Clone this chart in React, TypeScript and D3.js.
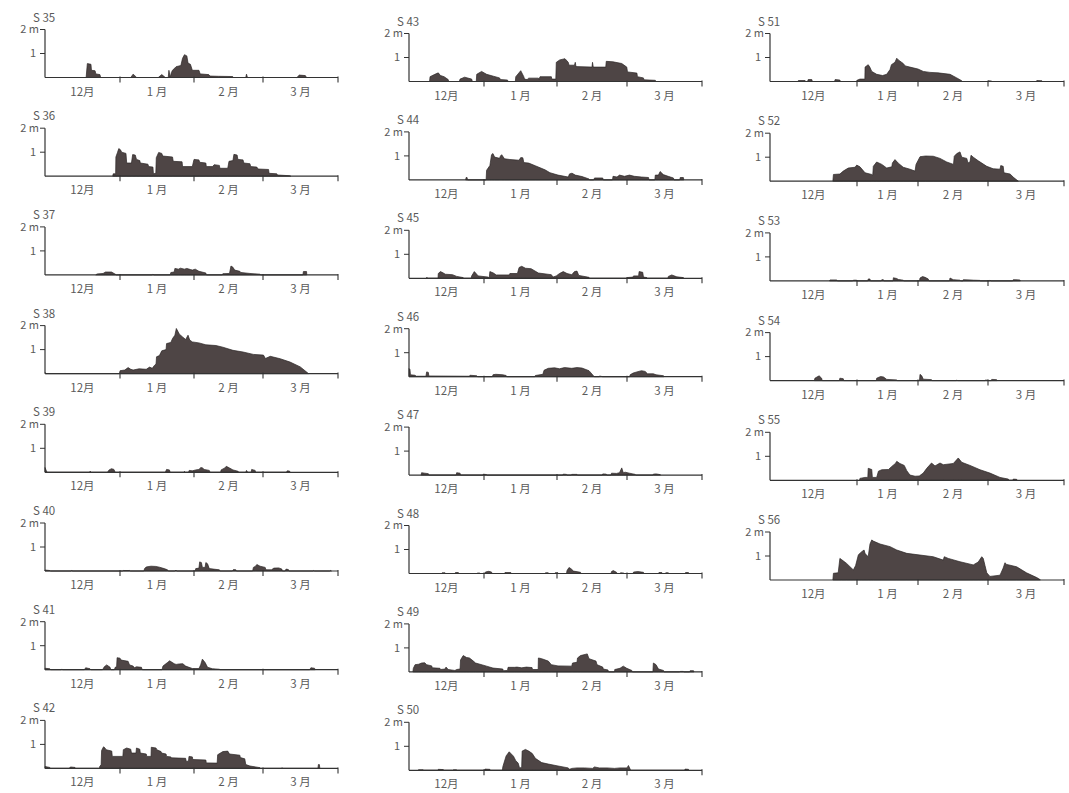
import React from 'react';
import * as d3 from 'd3';

type Pt = [number, number];

// days counted from 1 Dec; snow depth in metres
const monthStarts = [0, 31, 62, 90, 121];
const monthLabels = ['12月', '1 月', '2 月', '3 月'];

const s35: Pt[] = [[0,0],[17,0],[17.5,0.58],[19,0.55],[19.2,0.3],[20.7,0.28],[21,0.15],[22.7,0.12],[23,0],[35.5,0],[36.5,0.14],[38,0],[47,0],[48.5,0.12],[50,0],[51.2,0],[51.5,0.3],[52,0],[52.5,0.2],[53,0.3],[54.5,0.45],[56.5,0.5],[57.2,0.8],[58,0.95],[59,0.9],[59.5,0.6],[60.5,0.55],[61.3,0.3],[64,0.3],[64.5,0.15],[68,0.12],[68.5,0.06],[72,0.05],[77.7,0.04],[78,0],[83,0],[83.3,0.14],[83.7,0],[104,0],[105,0.1],[107.5,0.08],[108,0],[121,0]];
const s36: Pt[] = [[28,0],[28.2,0.1],[29.2,0.1],[29.3,0.8],[30,1.0],[30.5,1.15],[31.2,1.1],[31.7,1.0],[33.5,0.95],[33.8,0.55],[35.8,0.55],[36.3,0.9],[37.4,0.88],[37.9,0.7],[39.3,0.65],[39.5,0.55],[42.7,0.5],[43,0.4],[44.8,0.38],[45,0.1],[46,0.12],[46.2,0.77],[47.2,0.99],[48.5,0.95],[48.9,0.84],[53,0.8],[53.3,0.62],[57,0.6],[57.2,0.4],[61.3,0.4],[62,0.7],[64,0.68],[64.3,0.58],[66.8,0.55],[67,0.4],[69.5,0.4],[70.2,0.48],[72.3,0.45],[72.5,0.33],[75.7,0.33],[76.2,0.62],[77.8,0.65],[78.2,0.91],[79.5,0.88],[79.8,0.7],[81.9,0.68],[82.2,0.55],[84.7,0.52],[85,0.4],[87.5,0.38],[88,0.3],[92.3,0.28],[92.5,0.12],[95.7,0.1],[96,0.05],[101,0.02],[101.5,0]];
const s37: Pt[] = [[21,0],[21.5,0.04],[24,0.06],[25,0.12],[27.5,0.12],[28.9,0.04],[29.5,0],[44.5,0],[44.8,0.03],[45.2,0],[52,0],[52.3,0.1],[53.7,0.12],[54,0.27],[55.5,0.24],[56.3,0.28],[58,0.24],[59,0.27],[60.6,0.22],[61.3,0.2],[62.5,0.24],[64,0.15],[66.8,0.08],[67,0],[73.5,0],[73.7,0.05],[76.4,0.06],[77,0.37],[77.8,0.32],[78.5,0.2],[80.6,0.15],[81,0.1],[84.7,0.06],[88.8,0.03],[89,0],[106.5,0],[106.7,0.14],[108,0.14],[108.1,0]];
const s38: Pt[] = [[0,0.04],[0.5,0],[30.8,0],[31,0.12],[33,0.15],[34.4,0.25],[35.5,0.18],[36.5,0.15],[39,0.2],[42,0.18],[43.4,0.27],[44.5,0.22],[45.5,0.35],[46.1,0.4],[46.3,0.7],[47.5,0.75],[48.5,0.95],[50.3,1.0],[50.5,1.25],[52.3,1.3],[53,1.46],[54,1.6],[54.6,1.88],[55.3,1.75],[55.8,1.65],[57.2,1.53],[58.5,1.42],[59.5,1.6],[60.2,1.4],[61.3,1.32],[64,1.28],[66.8,1.2],[70.9,1.17],[73.7,1.1],[77.8,0.97],[81.9,0.9],[86.1,0.8],[90.2,0.77],[91,0.63],[93,0.72],[97.1,0.62],[101.2,0.48],[105.4,0.28],[108.8,0]];
const s39: Pt[] = [[0,0.2],[0.6,0.05],[1,0],[18.3,0],[18.6,0.04],[19.2,0],[25.8,0],[26.5,0.1],[27.5,0.15],[28.5,0.12],[29,0],[50,0],[50.5,0.12],[51.7,0.1],[52,0],[57.7,0],[58,0.04],[58.3,0],[59.7,0],[60,0.08],[61.3,0.06],[62.7,0.1],[64,0.12],[64.8,0.2],[65.5,0.18],[66.1,0.12],[68.2,0.08],[68.5,0],[72.8,0],[73,0.1],[74.5,0.18],[75.1,0.25],[76.4,0.18],[77.8,0.1],[79.9,0.04],[80.2,0],[83,0],[83.3,0.08],[83.8,0],[85.2,0],[85.4,0.12],[86.8,0.08],[87,0],[99.7,0],[100,0.06],[101,0.05],[101.2,0]];
const s40: Pt[] = [[0,0.04],[2,0.02],[2.2,0],[10.8,0],[11,0.02],[11.5,0],[32,0],[32.4,0.02],[35.1,0.02],[35.4,0],[41,0],[41.3,0.1],[42,0.17],[44,0.2],[46,0.19],[47.5,0.16],[49.5,0.1],[50.9,0.05],[51.2,0],[54,0],[54.4,0.04],[54.8,0],[62.5,0],[62.7,0.1],[64,0.12],[64.3,0.38],[65,0.35],[65.4,0.15],[66.5,0.15],[66.8,0.35],[67.5,0.3],[68.2,0.1],[72.3,0.05],[72.5,0],[77.6,0],[78,0.06],[79,0.05],[79.2,0],[85.8,0],[86.1,0.15],[87,0.2],[87.5,0.27],[88.8,0.2],[90.9,0.15],[91.2,0.05],[93.5,0.05],[94.5,0.12],[96.5,0.13],[97.8,0.08],[98,0],[99.2,0],[99.5,0.08],[100.5,0.06],[100.7,0],[110.7,0],[111,0.02],[111.3,0],[117.6,0],[118,0.02],[118.3,0]];
const s41: Pt[] = [[0,0.06],[2,0.04],[2.3,0],[6.7,0],[7,0.03],[7.3,0],[16.3,0],[16.8,0.08],[18.6,0.04],[19,0],[23.8,0],[24.5,0.12],[25.5,0.2],[26.9,0.1],[27.2,0],[28.7,0],[29,0.1],[29.6,0.12],[29.8,0.5],[31,0.48],[31.5,0.4],[34.4,0.35],[35,0.2],[36.5,0.15],[37,0.08],[37.9,0.12],[40,0.1],[40.3,0],[48.6,0],[49,0.15],[50.9,0.3],[51.8,0.37],[53.7,0.25],[54.5,0.22],[55.8,0.24],[57.3,0.25],[58.5,0.15],[61.3,0.05],[64,0.05],[64.7,0.2],[65.4,0.44],[66.5,0.3],[67.5,0.1],[69.5,0.04],[72.3,0.02],[72.5,0],[109.3,0],[109.8,0.08],[111.3,0.06],[111.6,0]];
const s42: Pt[] = [[0,0.08],[2,0.04],[2.3,0],[10,0],[10.5,0.06],[12.4,0.04],[12.6,0],[22.5,0],[22.7,0.1],[23.2,0.15],[23.4,0.75],[24.2,0.9],[24.8,0.85],[25.2,0.78],[27.6,0.72],[27.8,0.5],[32.2,0.5],[32.4,0.78],[33.8,0.85],[35.5,0.8],[35.8,0.64],[37.7,0.64],[37.9,0.85],[39.3,0.8],[39.5,0.64],[42,0.6],[42.2,0.5],[44,0.5],[44.1,0.88],[46.1,0.85],[46.4,0.78],[48.2,0.7],[48.4,0.64],[50.3,0.6],[50.5,0.5],[52.3,0.48],[52.5,0.44],[58.5,0.42],[58.7,0.3],[59.7,0.3],[59.9,0.5],[61.3,0.48],[61.5,0.37],[66.8,0.35],[67,0.23],[71.4,0.22],[71.6,0.57],[73.7,0.7],[75.7,0.72],[76.4,0.6],[80.6,0.55],[80.8,0.45],[82.6,0.4],[83,0.16],[84.7,0.1],[88.8,0.03],[89,0],[97.5,0],[97.8,0.03],[98.2,0],[112.7,0],[112.9,0.16],[113.3,0.16],[113.5,0]];
const s43: Pt[] = [[8.5,0],[8.7,0.2],[10.7,0.3],[12.1,0.36],[13,0.25],[14.5,0.2],[16.2,0.08],[16.4,0],[20.8,0],[21.1,0.1],[23,0.18],[25.9,0.1],[26.2,0],[27.8,0],[28,0.3],[30,0.42],[32.1,0.3],[35,0.22],[37.6,0.15],[38,0.08],[41,0.06],[41.2,0],[44.3,0],[44.5,0.2],[46.6,0.45],[47.9,0.2],[48.2,0.1],[49.3,0.08],[50,0.14],[54.1,0.14],[54.3,0.08],[54.8,0.2],[59.6,0.2],[59.8,0.1],[61.5,0.1],[61.7,0.8],[63.1,0.9],[65.2,0.95],[66.5,0.8],[66.8,0.68],[69,0.68],[69.3,0.8],[69.6,0.62],[76,0.6],[76.2,0.8],[76.5,0.6],[81.5,0.6],[81.7,0.84],[84.4,0.82],[87.9,0.75],[89.9,0.6],[90.2,0.4],[94.1,0.35],[94.3,0.2],[96.8,0.15],[97,0.07],[101.7,0.05],[102,0]];
const s44: Pt[] = [[23.4,0],[23.6,0.1],[24,0.1],[24.2,0],[31.9,0],[32.1,0.4],[33.5,0.6],[34.2,1.05],[34.8,1.1],[35.5,0.95],[37.6,0.9],[38,1.0],[38.5,1.05],[39.7,0.88],[42,0.85],[45.9,0.82],[46.6,0.93],[47.5,0.92],[47.9,0.72],[50,0.7],[53,0.58],[56.9,0.42],[59,0.3],[62.4,0.2],[66.5,0.12],[67,0.25],[68,0.28],[69.3,0.2],[72,0.14],[74.8,0.04],[75,0],[76.7,0],[77,0.08],[80.3,0.08],[80.5,0],[84.2,0],[84.4,0.15],[86,0.12],[87,0.2],[89,0.15],[91,0.2],[93,0.15],[96,0.12],[98.9,0.1],[99.1,0],[101.5,0],[101.7,0.2],[103,0.2],[103.7,0.35],[105,0.22],[107,0.15],[109.2,0.08],[109.4,0],[111.8,0],[112,0.1],[113.3,0.1],[113.5,0]];
const s45: Pt[] = [[7,0],[7.3,0.03],[8,0],[12,0],[12.1,0.2],[13,0.28],[14.2,0.22],[15,0.17],[18,0.15],[19.7,0.08],[22.4,0.03],[22.6,0],[25.7,0],[25.9,0.1],[27,0.28],[28.6,0.1],[32.8,0.05],[33.2,0],[33.5,0.28],[35,0.22],[36.2,0.14],[41.7,0.14],[42,0.2],[45.2,0.2],[45.9,0.45],[47,0.5],[48.6,0.42],[51,0.4],[54.1,0.22],[59.6,0.15],[60.3,0.05],[61.7,0.1],[63,0.2],[64.5,0.28],[66,0.2],[67.9,0.15],[69,0.28],[70,0.3],[70.7,0.12],[74.8,0.04],[75,0],[89.7,0],[90,0.03],[92.5,0.05],[92.7,0.1],[94.8,0.1],[95,0.28],[96.5,0.25],[96.8,0.05],[98.2,0.03],[98.4,0],[106.9,0],[107.1,0.08],[108.5,0.14],[110.6,0.06],[113.3,0.03],[113.5,0]];
const s46: Pt[] = [[0,0.34],[0.4,0.3],[0.6,0.08],[2.5,0.06],[3,0.02],[7,0.02],[7.3,0.2],[8,0.18],[8.2,0.03],[25,0.02],[25.2,0.06],[28,0.04],[28.3,0],[34.6,0],[34.8,0.08],[36,0.1],[39,0.08],[40.4,0.05],[40.6,0],[52.6,0],[52.8,0.05],[56,0.1],[56.5,0.27],[58.3,0.35],[61,0.37],[63,0.33],[65,0.38],[67.9,0.35],[70,0.38],[72,0.36],[74.8,0.25],[76.9,0],[78.9,0],[79,0.03],[80.3,0],[91.1,0],[91.3,0.08],[92.5,0.15],[94.1,0.2],[96,0.25],[97.5,0.22],[98.5,0.12],[100.9,0.12],[102,0.08],[105.1,0.04],[105.3,0]];
const s47: Pt[] = [[5,0],[5.2,0.1],[6.5,0.08],[8,0.06],[8.2,0],[19.5,0],[19.7,0.1],[21.1,0.08],[21.3,0],[30.5,0],[30.7,0.04],[32.1,0.02],[32.3,0],[64.3,0],[64.5,0.04],[65.8,0.03],[66,0],[67.7,0],[67.9,0.03],[70,0.03],[70.2,0],[80.1,0],[80.3,0.05],[81.7,0.04],[81.9,0],[83.6,0],[83.8,0.08],[85.8,0.07],[87,0.1],[87.9,0.3],[88.5,0.1],[89.3,0.12],[91,0.08],[93.4,0.03],[93.6,0],[100.7,0],[100.9,0.04],[102,0.05],[103.7,0.02],[103.9,0]];
const s48: Pt[] = [[13.5,0],[13.7,0.03],[14.9,0.03],[15.1,0],[19,0],[19.2,0.04],[20.4,0.04],[20.6,0],[28,0],[28.2,0.02],[29.3,0.02],[29.5,0],[31.4,0],[31.6,0.06],[33,0.09],[34.2,0.06],[34.4,0],[39.7,0],[39.9,0.04],[42.4,0.04],[42.6,0],[56.9,0],[57.1,0.03],[58.3,0.03],[58.5,0],[61,0],[61.2,0.03],[62.4,0.03],[62.6,0],[65.8,0],[66,0.12],[66.8,0.25],[67.6,0.2],[68.6,0.1],[71.4,0.05],[71.6,0],[83.6,0],[83.8,0.08],[84.5,0.12],[85.8,0.05],[86,0],[87.2,0],[87.4,0.03],[88.6,0.02],[88.8,0],[92.5,0],[92.7,0.06],[94.5,0.08],[96.8,0.05],[97,0],[103,0],[103.2,0.04],[104.4,0.04],[104.6,0],[105.8,0],[106,0.03],[107.1,0.03],[107.3,0],[114,0],[114.2,0.04],[115.4,0.04],[115.6,0]];
const s49: Pt[] = [[1.6,0],[1.8,0.15],[2.5,0.3],[4,0.32],[5.2,0.37],[6.5,0.38],[7.3,0.3],[9.4,0.25],[9.6,0.17],[12.8,0.15],[13,0.1],[14.9,0.12],[15.3,0.2],[16.2,0.1],[19,0.06],[19.7,0.1],[21.1,0.12],[21.3,0.5],[22.4,0.68],[23.8,0.6],[25,0.58],[26.6,0.45],[27.5,0.37],[29.3,0.32],[32.1,0.24],[34.8,0.16],[39,0.12],[39.2,0.05],[41,0.06],[41.2,0.19],[44,0.19],[45,0.2],[47,0.17],[49,0.2],[51.4,0.18],[51.6,0.1],[54,0.1],[54.1,0.58],[55.5,0.55],[58.3,0.45],[59,0.37],[59.6,0.3],[62.4,0.25],[67.9,0.24],[68.2,0.37],[70,0.4],[70.2,0.58],[71.4,0.68],[74.1,0.75],[74.8,0.55],[77.6,0.45],[78,0.3],[80.3,0.2],[80.5,0.12],[82.4,0.08],[82.6,0],[85,0],[85.1,0.1],[87.2,0.15],[88.5,0.24],[89.9,0.15],[92,0.06],[92.2,0],[100.7,0],[100.9,0.37],[102,0.3],[103,0.12],[105.1,0.06],[105.3,0],[111.8,0],[112,0.02],[113.3,0.02],[113.5,0],[115.9,0],[116.1,0.05],[117.5,0.05],[117.7,0]];
const s50: Pt[] = [[3.7,0],[3.9,0.02],[5.9,0.02],[6.1,0],[11.9,0],[12.1,0.04],[14.2,0.03],[14.4,0],[18.1,0],[18.3,0.02],[19.7,0.02],[19.9,0],[31.2,0],[31.4,0.05],[33.5,0.04],[33.7,0],[38.8,0],[39,0.15],[40.4,0.6],[41.7,0.77],[42.4,0.7],[43.5,0.59],[44.5,0.4],[45.5,0.3],[46.1,0.1],[47,0.12],[47.2,0.8],[48.6,0.87],[50,0.8],[51.5,0.7],[52.8,0.5],[55.5,0.32],[58.3,0.26],[62.4,0.18],[66.5,0.1],[67,0.04],[67.9,0.08],[70,0.1],[73,0.1],[76.2,0.08],[77,0.14],[78.9,0.1],[82,0.1],[85,0.08],[87.2,0.1],[90,0.1],[90.6,0.2],[91.3,0.05],[91.5,0],[113.8,0],[114,0.05],[115.4,0.04],[115.6,0]];
const s51: Pt[] = [[10,0],[10.1,0.04],[12.5,0.04],[12.7,0],[13.4,0],[13.6,0.08],[14.9,0.08],[15.1,0],[23,0],[23.2,0.08],[24.9,0.06],[25.1,0],[30.9,0],[31,0.05],[32.5,0.1],[35,0.1],[35.1,0.6],[36.7,0.7],[37.5,0.6],[38.5,0.42],[41,0.3],[44,0.25],[46.1,0.3],[47.8,0.5],[48.5,0.7],[50.3,0.8],[51.2,0.97],[52,0.9],[54.5,0.75],[55.5,0.65],[57.9,0.6],[62,0.52],[64.1,0.42],[66.8,0.38],[70,0.36],[74.8,0.3],[77.5,0.15],[79.5,0.03],[79.7,0],[90,0],[90.1,0.03],[91.5,0.02],[91.7,0],[109.7,0],[109.9,0.04],[112,0.03],[112.2,0]];
const s52: Pt[] = [[22.4,0],[22.6,0.28],[24.9,0.3],[26.1,0.42],[27.9,0.55],[30.3,0.58],[30.9,0.67],[32.5,0.6],[35.1,0.35],[38.5,0.28],[39,0.25],[39.3,0.62],[41,0.8],[43.6,0.7],[46.1,0.55],[48.7,0.6],[49,0.76],[50.3,0.9],[52,0.75],[54.5,0.58],[57.9,0.5],[60.5,0.42],[61,0.7],[62.8,1.02],[65,1.05],[68.1,1.04],[70.8,0.95],[73.5,0.8],[76.2,0.7],[76.5,1.04],[77.5,1.15],[78.8,1.22],[79.5,1.0],[81.5,0.95],[82,0.76],[82.8,0.8],[83.2,1.08],[84.1,1.0],[86.1,0.85],[89.5,0.62],[92.1,0.52],[94.9,0.5],[95.2,0.65],[96.2,0.62],[96.5,0.35],[99,0.3],[100.5,0.15],[102.4,0]];
const s53: Pt[] = [[21.2,0],[21.4,0.04],[23.8,0.04],[24,0],[29.5,0],[29.7,0.03],[30.9,0.03],[31.1,0],[36.5,0],[36.7,0.08],[37.6,0.08],[37.8,0],[43.4,0],[43.6,0.05],[44.4,0.05],[44.6,0],[49.3,0],[49.5,0.13],[51.2,0.1],[52,0.06],[54.5,0.03],[54.7,0],[62.6,0],[62.8,0.12],[63.8,0.18],[64.8,0.15],[66.1,0.08],[66.3,0],[74.6,0],[74.8,0.12],[76.1,0.05],[78.8,0.03],[79,0],[80,0],[80.1,0.05],[82.8,0.04],[84.1,0.03],[86.8,0.02],[87,0],[90.6,0],[90.8,0.03],[91.2,0],[100.1,0],[100.3,0.05],[103,0.04],[103.2,0]];
const s54: Pt[] = [[15.8,0],[16,0.1],[17.5,0.2],[18.4,0.1],[18.6,0],[24.7,0],[24.9,0.1],[26.1,0.08],[26.3,0],[40.8,0],[41,0.1],[43,0.17],[44.5,0.15],[46.1,0.05],[51.2,0.03],[51.4,0],[62.6,0],[62.8,0.26],[63.5,0.2],[64.1,0.06],[67.4,0.04],[67.6,0],[77.3,0],[77.5,0.02],[77.9,0],[88.6,0],[88.8,0.02],[90.1,0.02],[90.3,0],[91.3,0],[91.5,0.05],[93.5,0.04],[93.7,0]];
const s55: Pt[] = [[32.3,0],[32.5,0.08],[35,0.12],[36.5,0.12],[36.7,0.5],[38.5,0.45],[38.8,0.12],[41,0.12],[41.9,0.38],[43.6,0.44],[47,0.45],[48.7,0.58],[50.5,0.7],[51.2,0.79],[52.8,0.7],[55,0.62],[56.3,0.4],[57.9,0.22],[60.5,0.17],[62.5,0.18],[64.1,0.3],[65.5,0.5],[67.4,0.72],[68.8,0.6],[70.8,0.72],[72.1,0.65],[76.1,0.7],[77,0.8],[78.1,0.93],[79.5,0.75],[82.8,0.62],[86.8,0.44],[90.8,0.3],[94.9,0.12],[98.3,0.05],[98.5,0],[100.1,0],[100.3,0.05],[101.7,0.04],[101.9,0]];
const s56: Pt[] = [[22.4,0],[22.6,0.28],[24.3,0.3],[24.9,0.9],[25.5,0.85],[27.3,0.69],[29.7,0.42],[30.5,0.6],[31.7,1.05],[33.4,1.18],[34.6,1.25],[35.1,1.1],[36.7,0.97],[37.6,1.5],[38.5,1.67],[39.3,1.62],[42.7,1.5],[47.8,1.39],[51.2,1.25],[56.3,1.11],[62.8,1.04],[68.1,0.97],[72.1,0.83],[72.5,0.97],[74.1,0.9],[78.8,0.76],[84.1,0.63],[86.1,0.75],[87.5,0.97],[88.1,0.9],[88.8,0.6],[89.5,0.3],[90.8,0.15],[94.9,0.2],[96.2,0.5],[96.9,0.72],[97.6,0.65],[101.7,0.55],[105.7,0.3],[109.9,0.1],[111.2,0.02],[111.4,0]];

const col1Names = ['S 35', 'S 36', 'S 37', 'S 38', 'S 39', 'S 40', 'S 41', 'S 42'];
const col2Names = ['S 43', 'S 44', 'S 45', 'S 46', 'S 47', 'S 48', 'S 49', 'S 50'];
const col3Names = ['S 51', 'S 52', 'S 53', 'S 54', 'S 55', 'S 56'];

const columns = [
  { names: col1Names, series: [s35, s36, s37, s38, s39, s40, s41, s42], ticks: [45, 120, 194, 263, 338], top: 77.5, step: 98.7 },
  { names: col2Names, series: [s43, s44, s45, s46, s47, s48, s49, s50], ticks: [409, 484, 557, 627, 702], top: 81.5, step: 98.4 },
  { names: col3Names, series: [s51, s52, s53, s54, s55, s56], ticks: [770, 857, 918, 988, 1064], top: 81.5, step: 99.7 },
];

const FONT = '"Noto Sans CJK JP", "Noto Sans", sans-serif';
const INK = '#333';
const TXT = '#5a5a5a';

function Panel({ name, data, ticks, base }: { name: string; data: Pt[]; ticks: number[]; base: number }) {
  const x = d3.scaleLinear().domain(monthStarts).range(ticks);
  const y = d3.scaleLinear().domain([0, 2]).range([base, base - 48]);
  const area = d3.area<Pt>().x(d => x(d[0])).y0(y(0)).y1(d => y(d[1]));
  const x0 = ticks[0];

  return (
    <g>
      <text x={x0 - 12} y={y(2) - 8} fontSize={11.5} fill={TXT}>{name}</text>
      <path d={area(data) || ''} fill="#4e4545" stroke="#2b2525" strokeWidth={0.7} strokeLinejoin="round" />
      <line x1={x0} x2={x0} y1={y(0)} y2={y(2)} stroke={INK} strokeWidth={1.2} />
      {[1, 2].map(v => (
        <line key={v} x1={x0 - 5} x2={x0} y1={y(v)} y2={y(v)} stroke={INK} strokeWidth={1} />
      ))}
      <text x={x0 - 6} y={y(2)} dy="0.35em" textAnchor="end" fontSize={11} fill={TXT}>2 m</text>
      <text x={x0 - 9} y={y(1)} dy="0.35em" textAnchor="end" fontSize={11} fill={TXT}>1</text>
      <line x1={x0} x2={x(121)} y1={y(0)} y2={y(0)} stroke={INK} strokeWidth={1.2} />
      {monthStarts.slice(1).map(d => (
        <line key={d} x1={x(d)} x2={x(d)} y1={y(0) - 1} y2={y(0) + 5} stroke={INK} strokeWidth={1.1} />
      ))}
      {monthLabels.map((m, i) => (
        <text key={m} x={x((monthStarts[i] + monthStarts[i + 1]) / 2)} y={y(0) + 18}
          textAnchor="middle" fontSize={11.5} fill={TXT}>{m}</text>
      ))}
    </g>
  );
}

export default function App() {
  return (
    <svg width={1069} height={793} style={{ position: 'absolute', left: 0, top: 0, background: '#fff' }}
      fontFamily={FONT}>
      {columns.map((col, ci) =>
        col.series.map((data, i) => (
          <Panel key={ci + '-' + i} name={col.names[i]} data={data} ticks={col.ticks} base={col.top + i * col.step} />
        ))
      )}
    </svg>
  );
}
